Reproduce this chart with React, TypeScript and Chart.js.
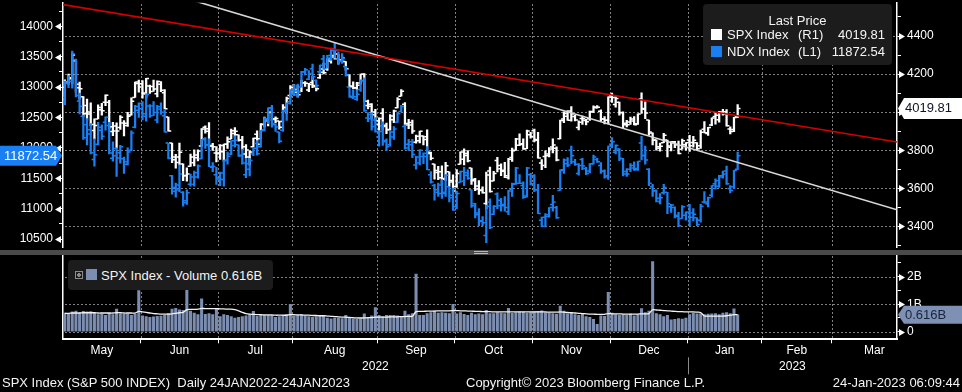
import React, { useEffect, useRef } from 'react';
import { Chart, registerables } from 'chart.js';

Chart.register(...registerables);

// ---------- axis / calendar data ----------
const monthNames = ['May', 'Jun', 'Jul', 'Aug', 'Sep', 'Oct', 'Nov', 'Dec', 'Jan', 'Feb', 'Mar'];
const monthTradingDays = [21, 21, 20, 23, 21, 21, 21, 21, 20, 19, 23];
const yearNames = ['2022', '2023'];
const yearFirstMonth = [0, 8];
const visibleDays = 225.6;

const ndxRange = [10366.6, 14385.8];
const ndxTickValues = [10500, 10750, 11000, 11250, 11500, 11750, 12000, 12250, 12500, 12750, 13000, 13250, 13500, 13750, 14000, 14250];
const ndxLabelStep = 500;

const spxRange = [3290.6, 4574.6];
const spxTickValues = [3300, 3400, 3500, 3600, 3700, 3800, 3900, 4000, 4100, 4200, 4300, 4400, 4500];
const spxLabelStep = 200;

const volRange = [-0.276, 2.79];
const volTickValues = [0, 0.5, 1, 1.5, 2, 2.5];
const volLabelStep = 1;

// trend lines (x in trading days, y in SPX points)
const redTrend = [[0, 4565], [225.6, 3843]];
const whiteTrend = [[0, 4790], [225.6, 3487]];

// ---------- SPX daily [open, high, low, close], 2 May 2022 .. 23 Jan 2023 ----------
const spxBars = [
  [4130.6, 4169.8, 4062.5, 4155.4], [4159.8, 4200.1, 4147.1, 4175.5], [4181.2, 4307.7, 4148.9, 4300.2], [4270.4, 4270.4, 4106.0, 4146.9], [4128.2, 4157.7, 4067.9, 4123.3],
  [4081.3, 4081.3, 3975.5, 3991.2], [4035.2, 4068.8, 3958.2, 4001.1], [3990.1, 4049.1, 3928.8, 3935.2], [3903.9, 3964.8, 3858.9, 3930.1], [3963.9, 4038.9, 3963.9, 4023.9],
  [4013.0, 4046.5, 3984.0, 4008.0], [4052.0, 4090.7, 4033.9, 4088.9], [4052.0, 4062.5, 3911.9, 3923.7], [3899.0, 3946.0, 3876.6, 3900.8], [3927.8, 3943.4, 3810.3, 3901.4],
  [3919.4, 3981.9, 3909.0, 3973.8], [3942.9, 3955.7, 3875.1, 3941.5], [3929.6, 3999.3, 3925.0, 3978.7], [3984.6, 4075.1, 3984.6, 4057.8], [4077.4, 4158.5, 4077.4, 4158.2],
  [4151.1, 4168.3, 4104.9, 4132.2],
  [4149.8, 4166.5, 4073.9, 4101.2], [4095.4, 4177.5, 4074.4, 4176.8], [4137.6, 4142.7, 4098.7, 4108.5], [4134.7, 4168.8, 4109.2, 4121.4], [4096.5, 4164.9, 4080.2, 4160.7],
  [4147.1, 4160.1, 4107.2, 4115.8], [4101.7, 4119.1, 4017.2, 4017.8], [3974.4, 3974.4, 3900.2, 3900.9], [3838.2, 3838.2, 3734.3, 3749.6], [3764.0, 3778.2, 3705.7, 3735.5],
  [3764.1, 3837.6, 3722.3, 3790.0], [3728.2, 3728.2, 3639.8, 3666.8], [3665.9, 3707.7, 3636.9, 3674.8], [3715.3, 3779.7, 3715.3, 3764.8], [3733.9, 3801.8, 3717.7, 3759.9],
  [3774.7, 3802.6, 3743.5, 3795.7], [3821.8, 3913.7, 3821.8, 3911.7], [3920.8, 3927.7, 3889.7, 3900.1], [3913.0, 3945.9, 3820.1, 3821.6], [3825.1, 3836.5, 3799.0, 3818.8],
  [3786.0, 3819.0, 3738.7, 3785.4],
  [3781.0, 3829.8, 3752.1, 3825.3], [3792.6, 3832.2, 3742.1, 3831.4], [3832.0, 3870.9, 3809.4, 3845.1], [3858.9, 3910.6, 3858.9, 3902.6], [3888.3, 3918.5, 3869.3, 3899.4],
  [3880.9, 3880.9, 3847.2, 3854.4], [3851.9, 3873.4, 3802.4, 3818.8], [3779.7, 3829.4, 3759.1, 3801.8], [3764.0, 3796.4, 3721.6, 3790.4], [3818.0, 3863.6, 3817.2, 3863.2],
  [3883.8, 3902.4, 3818.6, 3830.9], [3860.7, 3939.8, 3860.7, 3936.7], [3935.3, 3974.1, 3922.0, 3959.9], [3955.5, 3999.3, 3927.6, 3999.0], [3998.4, 4012.4, 3955.8, 3961.6],
  [3965.7, 3975.3, 3944.5, 3966.8], [3953.2, 3953.2, 3910.7, 3921.1], [3951.4, 4039.6, 3951.4, 4023.6], [4026.1, 4078.9, 3993.0, 4072.4], [4087.3, 4140.2, 4079.2, 4130.3],
  [4112.4, 4144.9, 4096.0, 4118.6], [4104.2, 4140.5, 4079.8, 4091.2], [4108.0, 4167.7, 4108.0, 4155.2], [4154.9, 4161.3, 4135.4, 4151.9], [4115.9, 4151.6, 4107.3, 4145.2],
  [4155.9, 4186.6, 4129.0, 4140.1], [4133.1, 4137.3, 4112.1, 4122.5], [4181.0, 4211.0, 4177.3, 4210.2], [4227.4, 4257.9, 4201.4, 4207.3], [4225.0, 4280.5, 4219.8, 4280.2],
  [4269.4, 4301.8, 4256.9, 4297.1], [4290.5, 4325.3, 4277.8, 4305.2], [4280.4, 4302.2, 4253.1, 4274.0], [4273.1, 4292.5, 4262.0, 4283.7], [4266.3, 4266.3, 4218.7, 4228.5],
  [4195.1, 4195.1, 4129.9, 4138.0], [4133.1, 4159.8, 4124.0, 4128.7], [4126.6, 4156.6, 4120.0, 4140.8], [4153.3, 4200.5, 4147.6, 4199.1], [4198.7, 4203.0, 4057.7, 4057.7],
  [4034.6, 4063.0, 4017.4, 4030.6], [4041.3, 4045.0, 3965.2, 3986.2], [4000.7, 4015.4, 3954.5, 3955.0],
  [3936.7, 3970.2, 3903.7, 3966.9], [3994.7, 4018.4, 3906.2, 3924.3], [3930.9, 3942.6, 3886.8, 3908.2], [3909.4, 3987.9, 3906.0, 3979.9], [3959.9, 4010.5, 3944.8, 4006.2],
  [4022.9, 4076.8, 4022.9, 4067.4], [4083.7, 4119.3, 4083.7, 4110.4], [4041.0, 4050.4, 3930.0, 3932.7], [3940.7, 3961.9, 3913.7, 3946.0], [3932.4, 3959.1, 3888.3, 3901.4],
  [3842.0, 3880.0, 3837.1, 3873.3], [3849.9, 3900.5, 3838.5, 3899.9], [3875.2, 3876.0, 3827.5, 3855.9], [3871.4, 3907.1, 3789.5, 3789.9], [3782.4, 3790.4, 3749.5, 3758.0],
  [3727.1, 3727.1, 3647.5, 3693.2], [3682.7, 3715.7, 3644.8, 3655.0], [3686.4, 3717.5, 3623.3, 3647.3], [3651.9, 3736.7, 3640.6, 3719.0], [3687.0, 3687.0, 3610.4, 3640.5],
  [3633.5, 3671.4, 3584.1, 3585.6],
  [3609.8, 3698.4, 3604.9, 3678.4], [3726.5, 3791.9, 3726.5, 3790.9], [3753.3, 3806.9, 3722.7, 3783.3], [3772.0, 3797.9, 3739.2, 3744.5], [3706.7, 3706.7, 3620.7, 3639.7],
  [3647.5, 3652.2, 3588.1, 3612.4], [3595.9, 3640.7, 3568.5, 3588.8], [3590.8, 3608.3, 3573.9, 3577.0], [3520.4, 3685.4, 3491.6, 3669.9], [3690.4, 3712.0, 3579.7, 3583.1],
  [3638.7, 3689.7, 3638.7, 3678.0], [3746.3, 3762.8, 3686.5, 3720.0], [3703.1, 3728.6, 3666.5, 3695.2], [3689.1, 3736.0, 3656.4, 3665.8], [3657.1, 3757.9, 3647.4, 3752.8],
  [3762.0, 3810.7, 3741.7, 3797.3], [3799.4, 3862.9, 3799.4, 3859.1], [3826.0, 3886.2, 3824.1, 3830.6], [3834.7, 3860.0, 3803.8, 3807.3], [3808.3, 3905.4, 3808.3, 3901.1],
  [3881.9, 3893.7, 3863.2, 3872.0],
  [3901.8, 3911.8, 3843.8, 3856.1], [3852.9, 3894.4, 3758.7, 3759.7], [3733.3, 3750.6, 3698.2, 3719.9], [3767.0, 3796.3, 3708.8, 3770.6], [3780.7, 3813.9, 3764.7, 3806.8],
  [3817.0, 3859.4, 3786.3, 3828.1], [3810.9, 3818.2, 3744.2, 3748.6], [3859.9, 3958.3, 3859.9, 3956.4], [3963.7, 4001.5, 3944.8, 3992.9], [3978.0, 4009.0, 3956.4, 3957.3],
  [4006.4, 4028.8, 3953.2, 3991.7], [3976.8, 3983.1, 3954.3, 3958.8], [3919.3, 3954.3, 3906.5, 3946.6], [3966.4, 3979.9, 3936.0, 3965.3], [3956.2, 3962.0, 3933.3, 3949.9],
  [3965.5, 4005.9, 3956.9, 4003.6], [4000.3, 4033.8, 3998.7, 4027.3], [4023.3, 4034.0, 4020.8, 4026.1], [4005.4, 4012.3, 3955.8, 3963.9], [3964.2, 3976.8, 3937.7, 3957.6],
  [3957.2, 4080.1, 3938.6, 4080.1],
  [4087.1, 4100.5, 4050.9, 4076.6], [4040.2, 4080.5, 4026.6, 4071.7], [4052.0, 4052.5, 3984.5, 3998.8], [3996.6, 4001.5, 3918.4, 3941.3], [3933.3, 3957.6, 3922.7, 3933.9],
  [3947.8, 3974.2, 3935.8, 3963.5], [3954.2, 3977.0, 3933.0, 3934.4], [3939.3, 3990.7, 3935.3, 3990.6], [4069.4, 4101.0, 3993.0, 4019.7], [4015.5, 4053.8, 3965.7, 3995.3],
  [3958.4, 3959.1, 3879.5, 3895.8], [3890.9, 3890.9, 3827.9, 3852.4], [3853.8, 3854.9, 3800.0, 3817.7], [3810.5, 3838.2, 3795.6, 3821.6], [3839.5, 3889.3, 3839.5, 3878.4],
  [3853.6, 3853.6, 3764.5, 3822.4], [3815.1, 3845.8, 3797.0, 3844.8], [3843.3, 3846.7, 3813.2, 3829.3], [3829.6, 3848.3, 3780.8, 3783.2], [3805.5, 3858.2, 3805.5, 3849.3],
  [3829.1, 3839.9, 3800.3, 3839.5],
  [3853.3, 3878.5, 3794.3, 3824.1], [3840.4, 3873.2, 3815.8, 3853.0], [3839.7, 3839.7, 3802.4, 3808.1], [3823.4, 3906.2, 3809.6, 3895.1], [3910.8, 3950.6, 3890.4, 3892.1],
  [3888.6, 3919.8, 3877.3, 3919.3], [3932.4, 3970.1, 3928.5, 3969.6], [3977.6, 3997.8, 3937.6, 3983.2], [3960.6, 4004.0, 3947.7, 3999.1], [3999.3, 4015.4, 3984.6, 3991.0],
  [4002.3, 4014.2, 3926.6, 3928.9], [3911.8, 3922.9, 3885.5, 3898.9], [3909.0, 3973.0, 3897.9, 3972.6], [3978.1, 4039.3, 3971.6, 4019.81],
];

// ---------- NDX daily [open, high, low, close] ----------
const ndxBars = [
  [12830, 13100, 12710, 13084], [13060, 13190, 12990, 13093], [13090, 13590, 12980, 13545], [13450, 13460, 12840, 12860], [12770, 12900, 12560, 12684],
  [12520, 12540, 12140, 12165], [12380, 12480, 12050, 12300], [12230, 12400, 11900, 11921], [11810, 12150, 11700, 11886], [12060, 12420, 12050, 12338],
  [12290, 12380, 12140, 12193], [12420, 12510, 12290, 12502], [12370, 12420, 11900, 11914], [11830, 12100, 11780, 11871], [11990, 12000, 11530, 11835],
  [11920, 12040, 11750, 12020], [11820, 11850, 11580, 11771], [11730, 12000, 11720, 11934], [11960, 12280, 11950, 12245], [12340, 12700, 12330, 12682],
  [12620, 12740, 12500, 12642],
  [12730, 12760, 12460, 12560], [12520, 12890, 12440, 12876], [12690, 12710, 12500, 12530], [12690, 12760, 12530, 12581], [12460, 12700, 12410, 12675],
  [12640, 12740, 12550, 12587], [12530, 12620, 12260, 12263], [12080, 12080, 11820, 11830], [11540, 11550, 11240, 11286], [11350, 11420, 11190, 11306],
  [11390, 11720, 11280, 11570], [11270, 11280, 11040, 11099], [11130, 11310, 11070, 11263], [11400, 11570, 11370, 11519], [11400, 11620, 11370, 11520],
  [11590, 11720, 11500, 11702], [11820, 12140, 11820, 12132], [12150, 12170, 11990, 12046], [12050, 12150, 11690, 11695], [11680, 11760, 11610, 11694],
  [11560, 11680, 11400, 11503],
  [11490, 11600, 11380, 11585], [11480, 11800, 11370, 11787], [11800, 11930, 11730, 11862], [11900, 12120, 11890, 12116], [12040, 12200, 12010, 12126],
  [12050, 12050, 11860, 11866], [11880, 11980, 11730, 11752], [11560, 11830, 11510, 11740], [11650, 11830, 11540, 11791], [11900, 12000, 11870, 11994],
  [12070, 12120, 11880, 11905], [12020, 12290, 12010, 12281], [12300, 12500, 12280, 12480], [12460, 12660, 12400, 12660], [12650, 12700, 12340, 12397],
  [12380, 12400, 12270, 12344], [12260, 12260, 12080, 12108], [12290, 12620, 12270, 12604], [12620, 12740, 12450, 12731], [12760, 12960, 12720, 12947],
  [12880, 13040, 12860, 12942], [12870, 13050, 12830, 12925], [13000, 13260, 13000, 13246], [13250, 13310, 13200, 13284], [13130, 13270, 13120, 13223],
  [13300, 13380, 13120, 13170], [13110, 13120, 12990, 13025], [13250, 13360, 13220, 13359], [13460, 13520, 13290, 13302], [13380, 13520, 13310, 13520],
  [13480, 13640, 13440, 13630], [13600, 13720, 13480, 13600], [13460, 13580, 13370, 13430], [13420, 13550, 13390, 13470], [13340, 13340, 13180, 13200],
  [13000, 13000, 12830, 12850], [12830, 12960, 12810, 12840], [12800, 12950, 12780, 12880], [12960, 13120, 12930, 13110], [13100, 13150, 12600, 12610],
  [12490, 12580, 12430, 12480], [12550, 12580, 12290, 12350], [12460, 12500, 12260, 12270],
  [12180, 12280, 12030, 12270], [12360, 12430, 12040, 12100], [12120, 12150, 11960, 12020], [12050, 12280, 12030, 12260], [12180, 12350, 12140, 12310],
  [12420, 12580, 12420, 12560], [12600, 12700, 12590, 12680], [12350, 12380, 11980, 12000], [12060, 12140, 11960, 12100], [12050, 12140, 11840, 11890],
  [11720, 11860, 11650, 11850], [11750, 11970, 11720, 11960], [11860, 11920, 11740, 11860], [11910, 12020, 11640, 11640], [11560, 11610, 11420, 11440],
  [11380, 11400, 11140, 11310], [11270, 11420, 11200, 11250], [11390, 11480, 11170, 11270], [11250, 11560, 11200, 11550], [11360, 11360, 11110, 11220],
  [11180, 11340, 10970, 10980],
  [11030, 11290, 11000, 11250], [11430, 11620, 11430, 11610], [11450, 11680, 11380, 11590], [11550, 11640, 11480, 11500], [11310, 11310, 11020, 11050],
  [11080, 11090, 10850, 10930], [10900, 11000, 10720, 10790], [10800, 10870, 10720, 10770], [10560, 11060, 10440, 11040], [11110, 11160, 10670, 10690],
  [10910, 11050, 10900, 11040], [11240, 11260, 11000, 11140], [11050, 11170, 10960, 11070], [11050, 11200, 10960, 11020], [10950, 11300, 10900, 11290],
  [11320, 11420, 11200, 11400], [11410, 11680, 11400, 11670], [11420, 11560, 11410, 11420], [11380, 11440, 11170, 11190], [11210, 11680, 11190, 11670],
  [11560, 11580, 11390, 11410],
  [11540, 11560, 11280, 11310], [11310, 11400, 10920, 10920], [10810, 10860, 10700, 10710], [10860, 10920, 10700, 10870], [10900, 11020, 10860, 11020],
  [11070, 11220, 10960, 11110], [11020, 11040, 10840, 10850], [11300, 11640, 11300, 11640], [11630, 11820, 11580, 11800], [11740, 11840, 11690, 11720],
  [11960, 12030, 11740, 11870], [11770, 11810, 11710, 11730], [11580, 11740, 11550, 11710], [11810, 11830, 11640, 11700], [11660, 11680, 11560, 11580],
  [11620, 11740, 11590, 11740], [11740, 11880, 11730, 11850], [11810, 11830, 11760, 11770], [11710, 11760, 11580, 11610], [11620, 11640, 11500, 11520],
  [11540, 12030, 11480, 12030],
  [12060, 12170, 12000, 12100], [11930, 12050, 11900, 12040], [11980, 11990, 11790, 11830], [11820, 11830, 11540, 11610], [11570, 11660, 11530, 11570],
  [11650, 11740, 11610, 11710], [11670, 11770, 11630, 11640], [11660, 11780, 11630, 11780], [12080, 12190, 11800, 11880], [11870, 12030, 11730, 11800],
  [11650, 11660, 11380, 11420], [11360, 11400, 11200, 11290], [11300, 11310, 11110, 11170], [11120, 11250, 11080, 11180], [11260, 11400, 11240, 11350],
  [11270, 11270, 10920, 11080], [11030, 11070, 10940, 11060], [11020, 11030, 10850, 10890], [10870, 10940, 10710, 10720], [10840, 11050, 10840, 11030],
  [10890, 10950, 10810, 10940],
  [11050, 11070, 10720, 10860], [10930, 11000, 10800, 10910], [10850, 10850, 10720, 10740], [10810, 11070, 10780, 11040], [11110, 11280, 11090, 11110],
  [11080, 11190, 11030, 11180], [11220, 11380, 11190, 11380], [11410, 11490, 11320, 11460], [11370, 11550, 11350, 11540], [11520, 11620, 11500, 11570],
  [11620, 11700, 11400, 11410], [11330, 11380, 11260, 11300], [11360, 11630, 11330, 11630], [11650, 11930, 11640, 11872.54],
];

// ---------- SPX volume (billions) and its moving average ----------
const volumes = [
  0.68, 0.66, 0.72, 0.75, 0.70, 0.74, 0.72, 0.73, 0.70, 0.62, 0.64, 0.60, 0.67, 0.62, 0.82, 0.65, 0.63, 0.64, 0.60, 0.64, 1.50,
  0.58, 0.55, 0.52, 0.54, 0.56, 0.57, 0.60, 0.66, 0.82, 0.85, 0.80, 0.78, 1.97, 0.75, 0.68, 0.62, 1.20, 0.63, 0.66, 0.62, 0.85,
  0.55, 0.62, 0.60, 0.55, 0.50, 0.52, 0.55, 0.58, 0.62, 0.74, 0.56, 0.62, 0.60, 0.60, 0.60, 0.52, 0.55, 0.60, 0.62, 1.00,
  0.58, 0.60, 0.62, 0.58, 0.55, 0.52, 0.55, 0.60, 0.57, 0.50, 0.47, 0.50, 0.50, 0.48, 0.60, 0.50, 0.47, 0.46, 0.50, 0.65, 0.52, 0.58, 0.88,
  0.60, 0.55, 0.60, 0.60, 0.60, 0.58, 0.56, 0.75, 0.62, 0.66, 2.10, 0.60, 0.60, 0.66, 0.70, 0.75, 0.68, 0.70, 0.68, 0.66, 1.00,
  0.65, 0.70, 0.63, 0.60, 0.68, 0.62, 0.65, 0.62, 0.78, 0.66, 0.66, 0.70, 0.68, 0.66, 0.85, 0.67, 0.70, 0.72, 0.71, 0.68, 0.70,
  0.72, 0.74, 0.76, 0.70, 0.68, 0.66, 0.64, 0.93, 0.75, 0.66, 0.70, 0.62, 0.60, 0.66, 0.55, 0.52, 0.45, 0.27, 0.58, 0.56, 1.43,
  0.68, 0.62, 0.60, 0.62, 0.60, 0.64, 0.58, 0.62, 0.84, 0.70, 0.75, 2.55, 0.66, 0.62, 0.55, 0.60, 0.43, 0.45, 0.48, 0.46, 0.50,
  0.62, 0.68, 0.65, 0.66, 0.62, 0.64, 0.65, 0.66, 0.62, 0.68, 0.70, 0.66, 0.83, 0.616,
];

const volumeAvg = [
  0.67, 0.67, 0.68, 0.68, 0.68, 0.69, 0.69, 0.69, 0.69, 0.68, 0.68, 0.68, 0.68, 0.68, 0.69, 0.69, 0.68, 0.68, 0.68, 0.68, 0.74,
  0.72, 0.70, 0.68, 0.66, 0.65, 0.64, 0.64, 0.64, 0.65, 0.67, 0.69, 0.70, 0.80, 0.81, 0.81, 0.82, 0.85, 0.84, 0.84, 0.84, 0.84,
  0.83, 0.83, 0.82, 0.82, 0.80, 0.76, 0.70, 0.66, 0.64, 0.63, 0.62, 0.62, 0.61, 0.61, 0.61, 0.60, 0.60, 0.60, 0.60, 0.62,
  0.62, 0.61, 0.61, 0.60, 0.60, 0.59, 0.59, 0.58, 0.58, 0.57, 0.56, 0.55, 0.54, 0.53, 0.53, 0.52, 0.51, 0.50, 0.50, 0.50, 0.51, 0.51, 0.53,
  0.53, 0.53, 0.53, 0.54, 0.54, 0.54, 0.55, 0.55, 0.56, 0.56, 0.73, 0.74, 0.74, 0.75, 0.75, 0.75, 0.76, 0.76, 0.76, 0.76, 0.77,
  0.77, 0.76, 0.76, 0.75, 0.75, 0.74, 0.74, 0.73, 0.73, 0.73, 0.72, 0.72, 0.72, 0.72, 0.72, 0.72, 0.72, 0.72, 0.72, 0.72, 0.72,
  0.72, 0.72, 0.72, 0.72, 0.71, 0.71, 0.71, 0.72, 0.71, 0.70, 0.69, 0.68, 0.67, 0.66, 0.65, 0.64, 0.64, 0.63, 0.63, 0.63, 0.66,
  0.65, 0.65, 0.65, 0.64, 0.64, 0.64, 0.64, 0.64, 0.65, 0.65, 0.66, 0.80, 0.79, 0.78, 0.77, 0.76, 0.75, 0.74, 0.73, 0.73, 0.72,
  0.72, 0.72, 0.71, 0.70, 0.57, 0.57, 0.57, 0.57, 0.57, 0.57, 0.58, 0.60, 0.62, 0.62,
];

// ---------- styles ----------
const FONT = '"Liberation Sans", Arial, Helvetica, sans-serif';
const BLUE = '#1a7ff2';
const WHITE = '#ffffff';
const VOLCOL = '#7b8eb2';
const GRID = '#808080';

function monthBoundaries() {
  const out = [0];
  monthTradingDays.forEach((d) => out.push(out[out.length - 1] + d));
  return out;
}

function fix(w?: number, h?: number) {
  return (s: any) => {
    if (w !== undefined) s.width = w;
    if (h !== undefined) s.height = h;
    s.paddingTop = 0;
    s.paddingBottom = 0;
    s.paddingLeft = 0;
    s.paddingRight = 0;
  };
}

function setTicks(values: number[]) {
  return (s: any) => {
    s.ticks = values.map((v) => ({ value: v }));
  };
}

type Arrow = { scaleId: string; side: 'left' | 'right'; step: number };
type Box = { scaleId: string; side: 'left' | 'right'; value: number; text: string; fill: string; color: string; h: number };
type GridSpec = { scaleId: string; values: number[]; vertical: boolean };

function isStep(v: number, step: number) {
  const r = Math.abs(v % step);
  return r < 1e-9 || Math.abs(r - step) < 1e-9;
}

// dotted grid through the chart's own scales: 2px dashes every 4px
function paintGrid(chart: any, specs: GridSpec[]) {
  const ctx = chart.ctx;
  const a = chart.chartArea;
  ctx.save();
  ctx.fillStyle = GRID;
  specs.forEach((g) => {
    const s = chart.scales[g.scaleId];
    g.values.forEach((v) => {
      const p = Math.round(s.getPixelForValue(v));
      if (g.vertical) {
        for (let y = Math.ceil(a.top) + 1; y < a.bottom - 1; y += 4) ctx.fillRect(p, y, 1, 2);
      } else {
        for (let x = Math.ceil(a.left) + 2; x < a.right - 1; x += 4) ctx.fillRect(x, p, 2, 1);
      }
    });
  });
  ctx.restore();
}

function makeDecor(grid: GridSpec[], arrows: Arrow[], boxes: Box[], extra?: (chart: any) => void) {
  return {
    id: 'bbgDecor',
    beforeDatasetsDraw(chart: any) {
      paintGrid(chart, grid);
    },
    afterDraw(chart: any) {
      const ctx = chart.ctx;
      ctx.save();
      arrows.forEach((a) => {
        const s = chart.scales[a.scaleId];
        s.ticks.forEach((t: any) => {
          if (!isStep(t.value, a.step)) return;
          const y = Math.round(s.getPixelForValue(t.value)) + 0.5;
          ctx.fillStyle = '#ffffff';
          ctx.beginPath();
          if (a.side === 'left') {
            const x0 = s.right;
            ctx.moveTo(x0 - 8, y);
            ctx.lineTo(x0 - 2, y - 3.5);
            ctx.lineTo(x0 - 2, y + 3.5);
          } else {
            const x0 = s.left;
            ctx.moveTo(x0 + 8, y);
            ctx.lineTo(x0 + 2, y - 3.5);
            ctx.lineTo(x0 + 2, y + 3.5);
          }
          ctx.closePath();
          ctx.fill();
        });
      });
      if (extra) extra(chart);
      boxes.forEach((b) => {
        const s = chart.scales[b.scaleId];
        const y = s.getPixelForValue(b.value);
        const h = b.h;
        ctx.fillStyle = b.fill;
        ctx.beginPath();
        if (b.side === 'left') {
          const tip = s.right - 1;
          const body = tip - 6;
          ctx.moveTo(0, y - h / 2);
          ctx.lineTo(body, y - h / 2);
          ctx.lineTo(tip, y);
          ctx.lineTo(body, y + h / 2);
          ctx.lineTo(0, y + h / 2);
        } else {
          const tip = s.left + 1;
          const body = tip + 6;
          const end = chart.width;
          ctx.moveTo(end, y - h / 2);
          ctx.lineTo(body, y - h / 2);
          ctx.lineTo(tip, y);
          ctx.lineTo(body, y + h / 2);
          ctx.lineTo(end, y + h / 2);
        }
        ctx.closePath();
        ctx.fill();
        ctx.fillStyle = b.color;
        ctx.font = `13px ${FONT}`;
        ctx.textBaseline = 'middle';
        ctx.textAlign = 'left';
        ctx.fillText(b.text, b.side === 'left' ? 4 : s.left + 8, y + 0.5);
      });
      ctx.restore();
    },
  };
}

function ohlcDatasets(bars: number[][], color: string, axis: string) {
  const off = 0.42;
  const tick = {
    type: 'scatter',
    yAxisID: axis,
    pointStyle: 'line',
    pointRadius: 1.3,
    pointBorderWidth: 1.5,
    pointBorderColor: color,
    pointBackgroundColor: color,
    pointHoverRadius: 0,
  };
  return [
    { ...tick, data: bars.map((b, i) => ({ x: i + 0.5 - off, y: b[0] })) },
    { ...tick, data: bars.map((b, i) => ({ x: i + 0.5 + off, y: b[3] })) },
    {
      type: 'bar',
      data: bars.map((b, i) => ({ x: i + 0.5, y: [Math.min(...b), Math.max(...b)] })),
      yAxisID: axis,
      backgroundColor: color,
      borderWidth: 0,
      barThickness: 1.6,
      grouped: false,
    },
  ];
}

export default function App() {
  const topRef = useRef<HTMLCanvasElement>(null);
  const botRef = useRef<HTMLCanvasElement>(null);

  const lastSpx = spxBars[spxBars.length - 1][3];
  const lastNdx = ndxBars[ndxBars.length - 1][3];
  const lastVol = volumes[volumes.length - 1];

  useEffect(() => {
    const bounds = monthBoundaries();
    const innerBounds = bounds.filter((v) => v > 0 && v < visibleDays);
    const monthCenters = monthNames.map((_, i) => (bounds[i] + bounds[i + 1]) / 2);
    const yearCenters = yearFirstMonth.map((m, i) => {
      const start = bounds[m];
      const end = i + 1 < yearFirstMonth.length ? bounds[yearFirstMonth[i + 1]] : visibleDays;
      return (start + Math.min(end, visibleDays)) / 2;
    });
    const tickFont = { family: FONT, size: 12 };

    const topDecor = makeDecor(
      [
        { scaleId: 'x', values: innerBounds, vertical: true },
        { scaleId: 'yR', values: spxTickValues.filter((v) => isStep(v, spxLabelStep)), vertical: false },
      ],
      [
        { scaleId: 'yL', side: 'left', step: ndxLabelStep },
        { scaleId: 'yR', side: 'right', step: spxLabelStep },
      ],
      [
        { scaleId: 'yL', side: 'left', value: lastNdx, text: lastNdx.toFixed(2), fill: BLUE, color: '#ffffff', h: 20 },
        { scaleId: 'yR', side: 'right', value: lastSpx, text: lastSpx.toFixed(2), fill: '#ffffff', color: '#0d1424', h: 21 },
      ]
    );

    const top = new Chart(topRef.current as HTMLCanvasElement, {
      type: 'scatter',
      data: {
        datasets: [
          {
            type: 'line',
            data: redTrend.map(([x, y]) => ({ x, y })),
            yAxisID: 'yR',
            borderColor: '#d40000',
            borderWidth: 1.6,
            pointRadius: 0,
            tension: 0,
          },
          {
            type: 'line',
            data: whiteTrend.map(([x, y]) => ({ x, y })),
            yAxisID: 'yR',
            borderColor: '#d8d8d8',
            borderWidth: 1.6,
            pointRadius: 0,
            tension: 0,
          },
          ...ohlcDatasets(ndxBars, BLUE, 'yL'),
          ...ohlcDatasets(spxBars, WHITE, 'yR'),
        ] as any,
      },
      options: {
        responsive: false,
        animation: false,
        devicePixelRatio: 1,
        events: [],
        layout: { padding: 0 },
        plugins: { legend: { display: false }, tooltip: { enabled: false } },
        scales: {
          x: {
            type: 'linear',
            position: 'bottom',
            min: 0,
            max: visibleDays,
            offset: false,
            afterBuildTicks: setTicks(innerBounds),
            afterFit: fix(undefined, 0),
            ticks: { display: false },
            grid: { display: false },
            border: { display: false },
          },
          yL: {
            type: 'linear',
            position: 'left',
            min: ndxRange[0],
            max: ndxRange[1],
            afterBuildTicks: setTicks(ndxTickValues),
            afterFit: fix(63),
            ticks: {
              color: '#ffffff',
              font: tickFont,
              padding: 6,
              autoSkip: false,
              callback: (v: any) => (isStep(v, ndxLabelStep) ? String(v) : ''),
            },
            grid: { drawOnChartArea: false, tickLength: 4, tickColor: '#ffffff', tickWidth: 1 },
            border: { color: '#ffffff', width: 1.5 },
          },
          yR: {
            type: 'linear',
            position: 'right',
            min: spxRange[0],
            max: spxRange[1],
            afterBuildTicks: setTicks(spxTickValues),
            afterFit: fix(65),
            ticks: {
              color: '#ffffff',
              font: tickFont,
              padding: 6,
              autoSkip: false,
              callback: (v: any) => (isStep(v, spxLabelStep) ? String(v) : ''),
            },
            grid: { drawOnChartArea: false, tickLength: 4, tickColor: '#ffffff', tickWidth: 1 },
            border: { color: '#ffffff', width: 1.5 },
          },
        },
      } as any,
      plugins: [topDecor],
    });

    const botDecor = makeDecor(
      [
        { scaleId: 'x', values: innerBounds, vertical: true },
        { scaleId: 'yV', values: volTickValues.filter((v) => isStep(v, volLabelStep)), vertical: false },
      ],
      [{ scaleId: 'yV', side: 'right', step: volLabelStep }],
      [{ scaleId: 'yV', side: 'right', value: lastVol, text: lastVol.toFixed(3) + 'B', fill: '#7e91b4', color: '#17243c', h: 18 }],
      (chart: any) => {
        const xs = chart.scales.x;
        const ys = chart.scales.x3;
        const px = Math.round(xs.getPixelForValue(bounds[yearFirstMonth[1]])) + 0.5;
        const c = chart.ctx;
        c.strokeStyle = '#8a8a8a';
        c.lineWidth = 1;
        c.beginPath();
        c.moveTo(px, ys.top - 2);
        c.lineTo(px, ys.bottom - 1);
        c.stroke();
      }
    );

    const bot = new Chart(botRef.current as HTMLCanvasElement, {
      type: 'bar',
      data: {
        datasets: [
          {
            type: 'line',
            data: volumeAvg.map((v, i) => ({ x: i + 0.5, y: v })),
            yAxisID: 'yV',
            borderColor: '#f2f2f2',
            borderWidth: 1.3,
            pointRadius: 0,
            tension: 0.25,
          },
          {
            type: 'bar',
            data: volumes.map((v, i) => ({ x: i + 0.5, y: v })),
            yAxisID: 'yV',
            backgroundColor: VOLCOL,
            borderWidth: 0,
            barThickness: 2.4,
            grouped: false,
          },
        ] as any,
      },
      options: {
        responsive: false,
        animation: false,
        devicePixelRatio: 1,
        events: [],
        layout: { padding: { top: 0, left: 0, right: 0, bottom: 16.7 } },
        plugins: { legend: { display: false }, tooltip: { enabled: false } },
        scales: {
          x: {
            type: 'linear',
            position: 'bottom',
            weight: 0,
            min: 0,
            max: visibleDays,
            offset: false,
            afterBuildTicks: setTicks(innerBounds),
            afterFit: fix(undefined, 4),
            ticks: { display: false },
            grid: { drawOnChartArea: false, drawTicks: true, tickLength: 4, tickColor: '#ffffff', tickWidth: 1, offset: false },
            border: { display: true, color: '#ffffff', width: 2 },
          },
          x2: {
            type: 'linear',
            position: 'bottom',
            weight: 1,
            min: 0,
            max: visibleDays,
            offset: false,
            afterBuildTicks: setTicks(monthCenters),
            afterFit: fix(undefined, 16),
            ticks: {
              color: '#ffffff',
              font: tickFont,
              padding: 0,
              autoSkip: false,
              maxRotation: 0,
              minRotation: 0,
              callback: (_v: any, i: number) => monthNames[i] || '',
            },
            grid: { display: false, drawTicks: false },
            border: { display: false },
          },
          x3: {
            type: 'linear',
            position: 'bottom',
            weight: 2,
            min: 0,
            max: visibleDays,
            offset: false,
            afterBuildTicks: setTicks(yearCenters),
            afterFit: fix(undefined, 16),
            ticks: {
              color: '#ffffff',
              font: tickFont,
              padding: 0,
              autoSkip: false,
              maxRotation: 0,
              minRotation: 0,
              callback: (_v: any, i: number) => yearNames[i] || '',
            },
            grid: { display: false, drawTicks: false },
            border: { display: false },
          },
          yVL: {
            type: 'linear',
            position: 'left',
            min: volRange[0],
            max: volRange[1],
            afterFit: fix(63),
            ticks: { display: false },
            grid: { drawOnChartArea: false, drawTicks: false },
            border: { color: '#ffffff', width: 1.5 },
          },
          yV: {
            type: 'linear',
            position: 'right',
            min: volRange[0],
            max: volRange[1],
            afterBuildTicks: setTicks(volTickValues),
            afterFit: fix(65),
            ticks: {
              color: '#ffffff',
              font: tickFont,
              padding: 6,
              autoSkip: false,
              callback: (v: any) => (isStep(v, volLabelStep) ? (v === 0 ? '0' : v + 'B') : ''),
            },
            grid: { drawOnChartArea: false, tickLength: 4, tickColor: '#ffffff', tickWidth: 1 },
            border: { color: '#ffffff', width: 1.5 },
          },
        },
      } as any,
      plugins: [botDecor],
    });

    return () => {
      top.destroy();
      bot.destroy();
    };
  }, []);

  const txt: React.CSSProperties = { position: 'absolute', whiteSpace: 'nowrap', color: '#f4f4f4', fontSize: 13, lineHeight: '16px' };

  return (
    <div
      style={{
        position: 'fixed',
        left: 0,
        top: 0,
        width: 962,
        height: 392,
        background: '#000',
        overflow: 'hidden',
        fontFamily: FONT,
      }}
    >
      <canvas ref={topRef} width={962} height={250} style={{ position: 'absolute', left: 0, top: 0, display: 'block' }} />
      <div style={{ position: 'absolute', left: 0, top: 250, width: 962, height: 5, background: '#4a4a4a' }} />
      <div style={{ position: 'absolute', left: 474, top: 251, width: 14, height: 1, background: '#b8b8b8' }} />
      <div style={{ position: 'absolute', left: 474, top: 253, width: 14, height: 1, background: '#b8b8b8' }} />
      <canvas ref={botRef} width={962} height={137} style={{ position: 'absolute', left: 0, top: 255, display: 'block' }} />

      {/* price legend */}
      <div style={{ position: 'absolute', left: 703, top: 4, width: 189, height: 61, background: '#1c1c1c', borderRadius: 4 }}>
        <div style={{ ...txt, left: 0, width: 189, top: 9, textAlign: 'center' }}>Last Price</div>
        <div style={{ position: 'absolute', left: 8, top: 25, width: 11, height: 11, background: WHITE }} />
        <div style={{ ...txt, left: 24, top: 23 }}>SPX Index</div>
        <div style={{ ...txt, left: 95, top: 23 }}>(R1)</div>
        <div style={{ ...txt, right: 7, top: 23, textAlign: 'right' }}>{lastSpx.toFixed(2)}</div>
        <div style={{ position: 'absolute', left: 8, top: 42, width: 11, height: 11, background: BLUE }} />
        <div style={{ ...txt, left: 24, top: 40 }}>NDX Index</div>
        <div style={{ ...txt, left: 95, top: 40 }}>(L1)</div>
        <div style={{ ...txt, right: 7, top: 40, textAlign: 'right' }}>{lastNdx.toFixed(2)}</div>
      </div>

      {/* volume legend */}
      <div style={{ position: 'absolute', left: 68, top: 260, width: 205, height: 30, background: '#1c1c1c', borderRadius: 4 }}>
        <div style={{ position: 'absolute', left: 7, top: 11, width: 6, height: 6, border: '1px solid #8a8a8a' }} />
        <div style={{ position: 'absolute', left: 10, top: 13, width: 2, height: 4, background: '#8a8a8a' }} />
        <div style={{ position: 'absolute', left: 9, top: 14, width: 4, height: 2, background: '#8a8a8a' }} />
        <div style={{ position: 'absolute', left: 18, top: 9, width: 11, height: 11, background: VOLCOL }} />
        <div style={{ ...txt, left: 33, top: 8 }}>{'SPX Index - Volume ' + lastVol.toFixed(3) + 'B'}</div>
      </div>

      {/* footer */}
      <div style={{ ...txt, left: 2, top: 375 }}>SPX Index (S&amp;P 500 INDEX)&nbsp;&nbsp;Daily 24JAN2022-24JAN2023</div>
      <div style={{ ...txt, left: 466, top: 375 }}>Copyright© 2023 Bloomberg Finance L.P.</div>
      <div style={{ ...txt, right: 2, top: 375, textAlign: 'right' }}>24-Jan-2023 06:09:44</div>
    </div>
  );
}
